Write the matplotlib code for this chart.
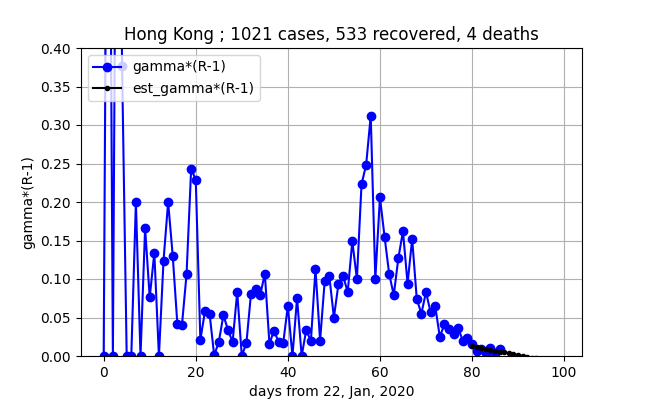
import matplotlib
matplotlib.use("Agg")
import matplotlib.pyplot as plt
import numpy as np

# gamma*(R-1) observed, day 0 .. 86
gamma_vals = [
    0.0, 1.0, 0.0, 1.0, 0.376, 0.0, 0.0, 0.200, 0.0, 0.166,
    0.076, 0.134, 0.0, 0.124, 0.200, 0.130, 0.042, 0.040, 0.106, 0.243,
    0.229, 0.021, 0.058, 0.055, 0.001, 0.018, 0.053, 0.034, 0.018, 0.083,
    0.0, 0.017, 0.081, 0.087, 0.079, 0.107, 0.016, 0.033, 0.018, 0.017,
    0.065, 0.0, 0.075, 0.0, 0.034, 0.019, 0.113, 0.020, 0.097, 0.104,
    0.050, 0.094, 0.104, 0.083, 0.149, 0.100, 0.223, 0.248, 0.312, 0.100,
    0.206, 0.155, 0.107, 0.079, 0.127, 0.162, 0.094, 0.152, 0.074, 0.055,
    0.083, 0.057, 0.065, 0.025, 0.041, 0.035, 0.029, 0.036, 0.020, 0.023,
    0.015, 0.006, 0.009, 0.004, 0.010, 0.004, 0.009,
]
gamma_days = list(range(len(gamma_vals)))

# est_gamma*(R-1), day 80 .. 99 (goes below zero after ~day 91)
est_vals = [
    0.0125, 0.0113, 0.0101, 0.0090, 0.0079, 0.0068, 0.0057, 0.0046, 0.0035, 0.0024,
    0.0013, 0.0002, -0.0009, -0.0020, -0.0031, -0.0042, -0.0053, -0.0064, -0.0075, -0.0086,
]
est_days = list(range(80, 80 + len(est_vals)))

title = "Hong Kong ; 1021 cases, 533 recovered, 4 deaths"

fig, ax = plt.subplots(figsize=(6.47, 4.0), dpi=100)
ax.plot(gamma_days, gamma_vals, "bo-", label="gamma*(R-1)")
ax.plot(est_days, est_vals, "k.-", label="est_gamma*(R-1)")
ax.set_ylim(0, 0.4)
ax.set_title(title)
ax.set_xlabel("days from 22, Jan, 2020")
ax.set_ylabel("gamma*(R-1)")
ax.grid(True)
ax.legend(loc="upper left")
fig.savefig("out.png", dpi=100)
